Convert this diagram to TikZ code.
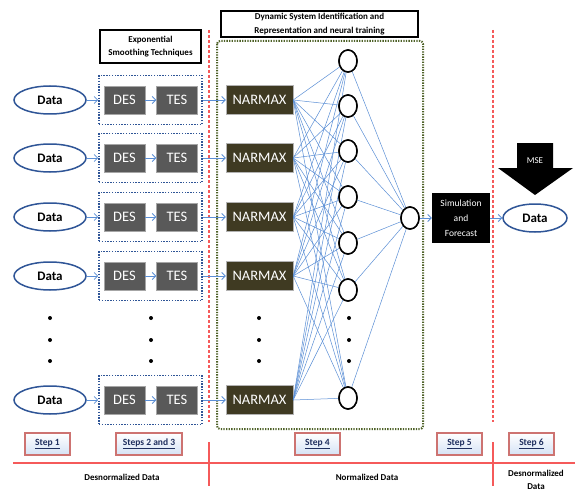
\documentclass[tikz,border=0pt]{standalone}
\usepackage{fontspec}
\setmainfont{Carlito}
\usetikzlibrary{arrows.meta,shapes.geometric}
\definecolor{ebl}{HTML}{2F5597}
\definecolor{arrbl}{HTML}{5B8FD6}
\definecolor{desgray}{HTML}{595959}
\definecolor{narm}{HTML}{3F3A22}
\definecolor{olivedot}{HTML}{4F6228}
\definecolor{redl}{RGB}{245,90,90}
\definecolor{stepred}{HTML}{C0504D}
\definecolor{stepfill}{HTML}{D5E2F5}
\definecolor{steptext}{HTML}{1F2F5F}
\tikzset{
  dataell/.style={ellipse, draw=ebl, line width=1.5pt, fill=white, minimum width=72pt, minimum height=28pt, inner sep=0pt, font=\fontsize{13}{14}\selectfont\bfseries},
  smbox/.style={draw=ebl, line width=1.6pt, dash pattern=on 1.4pt off 1.4pt, minimum width=103pt, minimum height=49pt, inner sep=0pt},
  desbox/.style={fill=desgray, draw=gray!70, line width=0.4pt, text=white, minimum width=41pt, minimum height=28pt, inner sep=0pt, font=\fontsize{14.5}{15}\selectfont},
  narmbox/.style={fill=narm, draw=gray!60, line width=0.4pt, text=white, minimum width=67pt, minimum height=29pt, inner sep=0pt, font=\fontsize{14.5}{15}\selectfont},
  neu/.style={ellipse, draw=black, line width=1.5pt, fill=white, minimum width=18pt, minimum height=22pt, inner sep=0pt},
  arr/.style={draw=arrbl, line width=0.8pt, -{Straight Barb[length=3.5pt,width=7pt]}},
  nn/.style={draw=arrbl, line width=0.5pt},
  titlebox/.style={draw=black, line width=1.6pt, inner sep=0pt, align=center, font=\fontsize{9}{13}\selectfont\bfseries},
  stepbox/.style={draw=stepred!80, line width=1.4pt, top color=white, bottom color=stepfill, minimum height=22pt, inner sep=0pt, text=steptext, font=\fontsize{9.5}{10}\selectfont\bfseries},
  redv/.style={color=redl, line width=1.1pt},
  botlab/.style={align=center, font=\fontsize{9}{12.5}\selectfont\bfseries},
  dotm/.style={circle, fill=black, inner sep=0pt, minimum size=4pt}
}
\begin{document}
\begin{tikzpicture}[x=1pt,y=-1pt]
\useasboundingbox (0,0) rectangle (575,492);
\fill[white] (0,0) rectangle (575,492);

% red separators
\draw[redv, dash pattern=on 3pt off 2pt] (209,30) -- (209,422);
\draw[redv] (209,442) -- (209,486);
\draw[redv, dash pattern=on 3pt off 2pt] (493,30) -- (493,422);
\draw[redv] (493,442) -- (493,486);
\draw[redv] (13,463) -- (575,463);

% green dotted frame
\draw[olivedot, line width=2pt, dash pattern=on 1.3pt off 1.3pt, rounded corners=3pt] (217,41) rectangle (423,429);

% title boxes
\node[titlebox, minimum width=101pt, minimum height=33pt] (exptitle) at (150.5,46.5) {Exponential\\Smoothing Techniques};
\node[titlebox, minimum width=197pt, minimum height=26pt, font=\fontsize{9}{14.5}\selectfont\bfseries] (dyntitle) at (319.5,24) {Dynamic System Identification and\\Representation and neural training};

% hidden and output neurons
\foreach \j/\y in {1/61,2/106,3/151,4/197,5/243,6/290,7/398}{
  \node[neu] (h\j) at (348,\y) {};
}
\node[neu] (o) at (410,218) {};

% rows
\foreach \i/\y in {1/100,2/158,3/217,4/276,5/400}{
  \node[dataell] (d\i) at (50,\y) {Data};
  \node[smbox] (b\i) at (150.5,\y) {};
  \node[desbox] (des\i) at (124.5,\y) {DES};
  \node[desbox] (tes\i) at (177,\y) {TES};
  \node[narmbox] (n\i) at (259.5,\y) {NARMAX};
  \draw[arr] (d\i) -- (b\i);
  \draw[arr] (des\i) -- (tes\i);
  \draw[arr] (b\i) -- (n\i);
}

% network connections
\foreach \i in {1,...,5}{
  \foreach \j in {1,...,7}{
    \draw[nn] (n\i.east) -- (h\j);
  }
}
\foreach \j in {1,...,7}{
  \draw[nn] (h\j) -- (o);
}
% redraw neurons on top
\foreach \j/\y in {1/61,2/106,3/151,4/197,5/243,6/290,7/398}{
  \node[neu] at (348,\y) {};
}
\node[neu] at (410,218) {};

% simulation and output
\node[fill=black, text=white, minimum width=58pt, minimum height=50pt, inner sep=0pt, align=center, font=\fontsize{9.5}{15}\selectfont] (sim) at (461,218) {Simulation\\and\\Forecast};
\node[dataell, minimum width=64pt] (dout) at (535,218) {Data};
\draw[arr] (o) -- (sim);
\draw[arr] (sim) -- (dout);

% MSE arrow
\fill[black] (517,143) -- (553,143) -- (553,168) -- (573,168) -- (535,195) -- (498,168) -- (517,168) -- cycle;
\node[text=white, font=\fontsize{9}{10}\selectfont, inner sep=0pt] (mse) at (535,161) {MSE};

% dots
\foreach \x in {50,151,259,349}{
  \foreach \y in {318,340,361}{
    \node[dotm] at (\x,\y) {};
  }
}

% step boxes
\node[stepbox, minimum width=45pt] (s1) at (47.5,444) {\underline{Step 1}};
\node[stepbox, minimum width=66pt] (s23) at (149,444) {\underline{Steps 2 and 3}};
\node[stepbox, minimum width=45pt] (s4) at (317.5,444) {\underline{Step 4}};
\node[stepbox, minimum width=45pt] (s5) at (459.5,444) {\underline{Step 5}};
\node[stepbox, minimum width=45pt] (s6) at (531.5,444) {\underline{Step 6}};

% bottom labels
\node[botlab] (l1) at (122,477) {Desnormalized Data};
\node[botlab] (l2) at (367,477) {Normalized Data};
\node[botlab] (l3) at (536,480) {Desnormalized\\Data};
\end{tikzpicture}
\end{document}
